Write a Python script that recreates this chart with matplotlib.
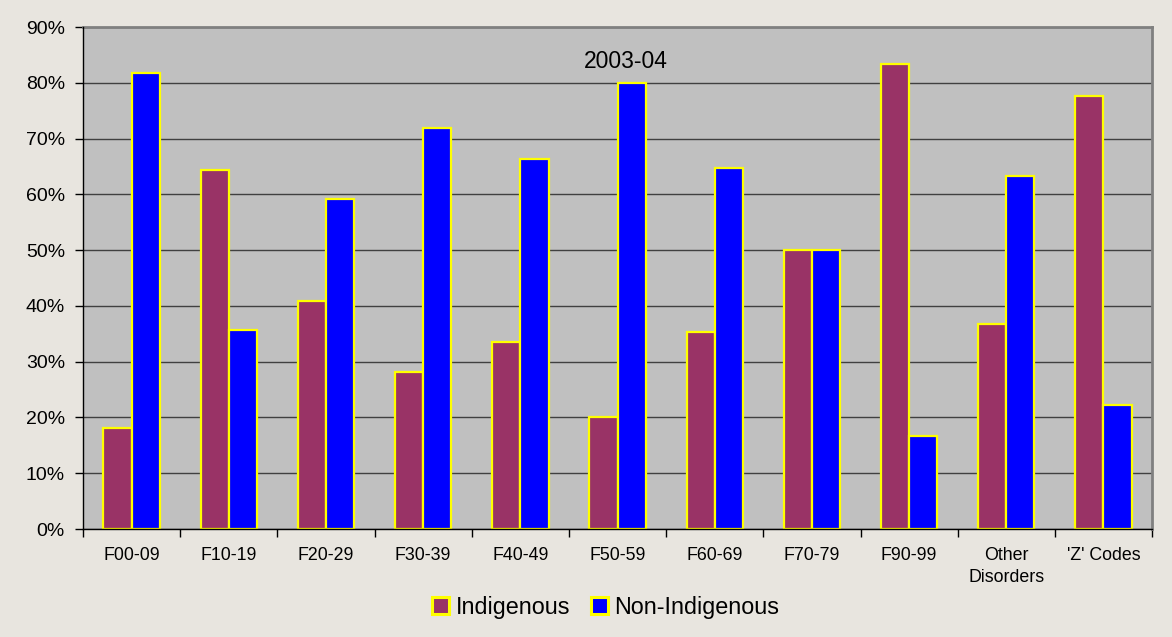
import matplotlib
matplotlib.use("Agg")
import matplotlib.pyplot as plt
import numpy as np
from matplotlib.ticker import PercentFormatter, FixedLocator

# Share of separations by diagnosis group, 2003-04
categories = ['F00-09', 'F10-19', 'F20-29', 'F30-39', 'F40-49', 'F50-59',
              'F60-69', 'F70-79', 'F90-99', 'Other\nDisorders', "'Z' Codes"]
indigenous = [18.2, 64.4, 40.9, 28.1, 33.6, 20.0, 35.3, 50.0, 83.3, 36.7, 77.7]
non_indigenous = [81.8, 35.6, 59.1, 71.9, 66.4, 80.0, 64.7, 50.0, 16.7, 63.3, 22.3]
y_ticks = [0, 10, 20, 30, 40, 50, 60, 70, 80, 90]

plt.rcParams['font.family'] = ['Liberation Sans', 'DejaVu Sans']

bg = '#E8E5DF'
fig = plt.figure(figsize=(11.72, 6.37), dpi=100, facecolor=bg)
ax = fig.add_axes([0.0708, 0.1695, 0.9122, 0.7881])
ax.set_facecolor('#C0C0C0')

x = np.arange(len(categories))
width = 0.29
ax.bar(x - width / 2, indigenous, width, color='#993366', edgecolor='#FFFF00',
       linewidth=1.6, label='Indigenous', zorder=3)
ax.bar(x + width / 2, non_indigenous, width, color='#0000FF', edgecolor='#FFFF00',
       linewidth=1.6, label='Non-Indigenous', zorder=3)

ax.set_xlim(-0.5, len(categories) - 0.5)
ax.set_ylim(0, 90)
ax.set_yticks(y_ticks)
ax.yaxis.set_major_formatter(PercentFormatter(decimals=0))
ax.grid(axis='y', color='#404040', linewidth=1.0, zorder=1)

# category labels centred, tick marks on the group boundaries
ax.set_xticks(x)
ax.set_xticklabels(categories, fontsize=12.8, linespacing=1.4)
ax.tick_params(axis='x', length=0, pad=13)
ax.xaxis.set_minor_locator(FixedLocator(np.arange(len(categories) + 1) - 0.5))
ax.tick_params(axis='x', which='minor', length=6, width=1, color='black')
ax.tick_params(axis='y', labelsize=14, length=6, width=1, pad=7)

for side in ['top', 'right']:
    ax.spines[side].set_color('#808080')
    ax.spines[side].set_linewidth(2)
for side in ['left', 'bottom']:
    ax.spines[side].set_color('black')
    ax.spines[side].set_linewidth(1)
    ax.spines[side].set_zorder(4)

ax.text(0.508, 0.932, '2003-04', transform=ax.transAxes, ha='center', va='center',
        fontsize=16.5)

leg = fig.legend(loc='center', bbox_to_anchor=(0.517, 0.047), ncol=2, frameon=False,
                 fontsize=16.8, handlelength=0.7, handleheight=0.7,
                 handletextpad=0.3, columnspacing=0.9)
for h in leg.legend_handles:
    h.set_linewidth(2.2)

fig.savefig('out.png', dpi=100, facecolor=bg)
